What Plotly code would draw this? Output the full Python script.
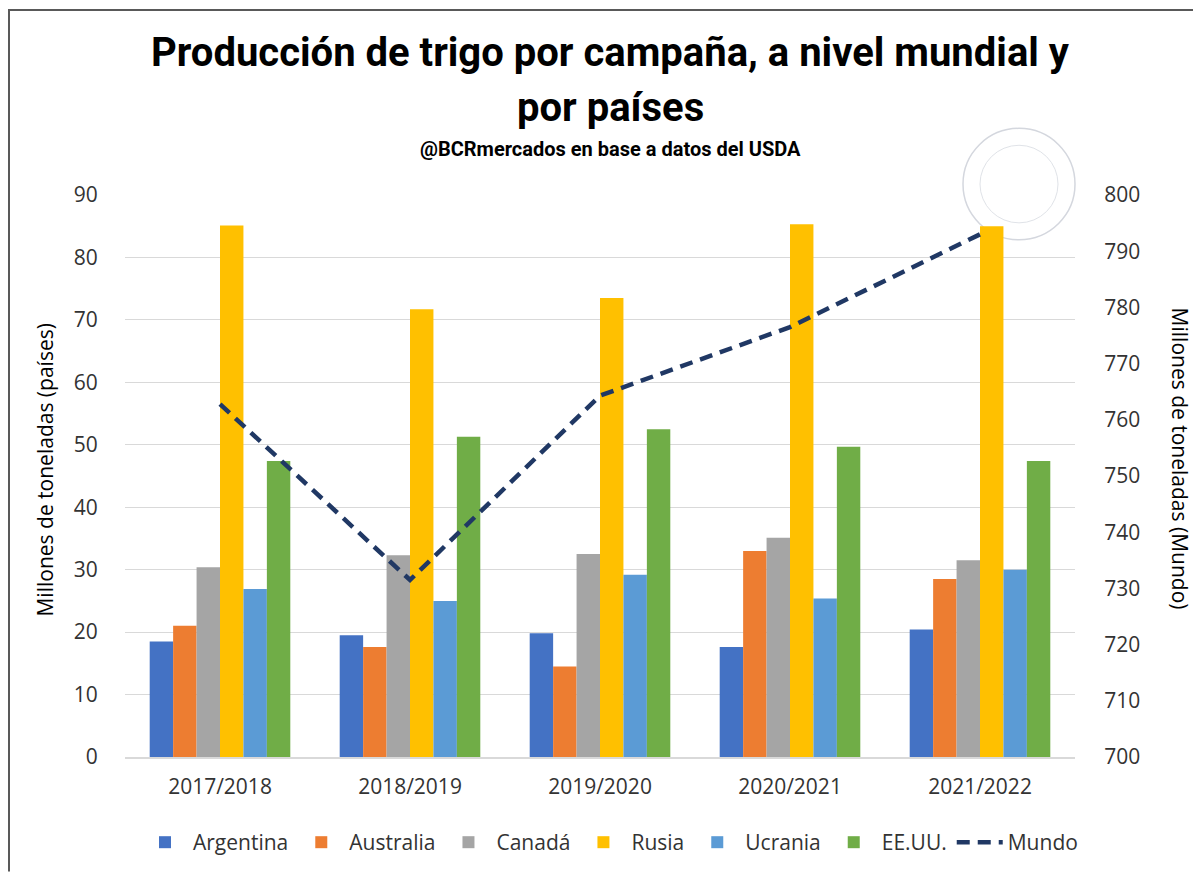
import plotly.graph_objects as go

campanas = ["2017/2018", "2018/2019", "2019/2020", "2020/2021", "2021/2022"]
argentina = [18.5, 19.5, 19.8, 17.6, 20.4]
australia = [21.0, 17.6, 14.5, 33.0, 28.5]
canada = [30.4, 32.3, 32.5, 35.1, 31.5]
rusia = [85.1, 71.7, 73.5, 85.3, 85.0]
ucrania = [26.9, 25.0, 29.2, 25.4, 30.0]
eeuu = [47.4, 51.3, 52.5, 49.7, 47.4]
mundo = [762.8, 731.5, 764.3, 776.5, 793.0]

series = [
    ("Argentina", argentina, "#4472C4"),
    ("Australia", australia, "#ED7D31"),
    ("Canadá", canada, "#A5A5A5"),
    ("Rusia", rusia, "#FFC000"),
    ("Ucrania", ucrania, "#5B9BD5"),
    ("EE.UU.", eeuu, "#70AD47"),
]

OFF = 8  # page body margin
W, H = 1201 - OFF, 875 - OFF
PL, PR, PT, PB = 125, 1075, 195, 760  # plot area in reference pixels
L, R, T, B = PL - OFF, W - (PR - OFF), PT - OFF, H - (PB - OFF)
PW, PH = PR - PL, PB - PT


def px_x(x):
    return (x - PL) / PW


def px_y(y):
    return (PB - y) / PH


TICK_FONT = dict(family="Open Sans, Lato, sans-serif", size=21, color="#333333")
TITLE_FONT = "Roboto, Inter, sans-serif"

fig = go.Figure()
for name, vals, col in series:
    fig.add_trace(go.Bar(x=campanas, y=vals, name=name, marker=dict(color=col, line=dict(width=0)),
                         yaxis="y"))

fig.add_trace(go.Scatter(x=campanas, y=mundo, name="Mundo", mode="lines", yaxis="y2",
                         line=dict(color="#203864", width=4.5, dash="13px,8px")))

shapes = [
    # seal watermark
    dict(type="circle", xref="paper", yref="paper", x0=px_x(963), x1=px_x(1075), y0=px_y(240), y1=px_y(128),
         line=dict(color="#d4d7de", width=1.5), layer="below"),
    dict(type="circle", xref="paper", yref="paper", x0=px_x(980), x1=px_x(1058), y0=px_y(223), y1=px_y(145),
         line=dict(color="#e0e3e8", width=1), layer="below"),
    # frame
    dict(type="line", xref="paper", yref="paper", x0=px_x(8), x1=px_x(1201), y0=px_y(9), y1=px_y(9),
         line=dict(color="#595959", width=2)),
    dict(type="line", xref="paper", yref="paper", x0=px_x(9), x1=px_x(9), y0=px_y(9), y1=px_y(875),
         line=dict(color="#595959", width=2)),
]

annotations = [
    dict(text="<b>Producción de trigo por campaña, a nivel mundial y</b>", xref="paper", yref="paper",
         x=px_x(610), y=px_y(52), xanchor="center", yanchor="middle", showarrow=False,
         font=dict(family=TITLE_FONT, size=40, color="#000000")),
    dict(text="<b>por países</b>", xref="paper", yref="paper",
         x=px_x(610), y=px_y(107), xanchor="center", yanchor="middle", showarrow=False,
         font=dict(family=TITLE_FONT, size=40, color="#000000")),
    dict(text="<b>@BCRmercados en base a datos del USDA</b>", xref="paper", yref="paper",
         x=px_x(610), y=px_y(149), xanchor="center", yanchor="middle", showarrow=False,
         font=dict(family=TITLE_FONT, size=20, color="#000000")),
    dict(text="Millones de toneladas (países)", xref="paper", yref="paper", textangle=-90,
         x=px_x(45), y=px_y(472), xanchor="center", yanchor="middle", showarrow=False,
         font=dict(family="Open Sans, Lato, sans-serif", size=21, color="#000000")),
    dict(text="Millones de toneladas (Mundo)", xref="paper", yref="paper", textangle=90,
         x=px_x(1180), y=px_y(460), xanchor="center", yanchor="middle", showarrow=False,
         font=dict(family="Open Sans, Lato, sans-serif", size=21, color="#000000")),
]

fig.update_layout(
    width=W, height=H,
    margin=dict(l=L, r=R, t=T, b=B),
    paper_bgcolor="white", plot_bgcolor="white",
    barmode="group", bargap=0.26, bargroupgap=0,
    xaxis=dict(showgrid=False, showline=True, linecolor="#d9d9d9", linewidth=1.5,
               tickfont=TICK_FONT, ticks="outside", ticklen=10, tickcolor="rgba(0,0,0,0)"),
    yaxis=dict(range=[0, 90], dtick=10, showgrid=True, gridcolor="#d9d9d9", gridwidth=1,
               zeroline=False, tickfont=TICK_FONT, ticks="outside", ticklen=22,
               tickcolor="rgba(0,0,0,0)"),
    yaxis2=dict(range=[700, 800], dtick=10, overlaying="y", side="right", showgrid=False,
                zeroline=False, tickfont=TICK_FONT, ticks="outside", ticklen=24,
                tickcolor="rgba(0,0,0,0)"),
    legend=dict(orientation="h", x=px_x(610), xanchor="center", y=px_y(846), yanchor="middle",
                font=dict(family="Open Sans, Lato, sans-serif", size=21, color="#333333"),
                itemwidth=46, traceorder="normal"),
    shapes=shapes, annotations=annotations,
)

fig.write_html("out.html")
